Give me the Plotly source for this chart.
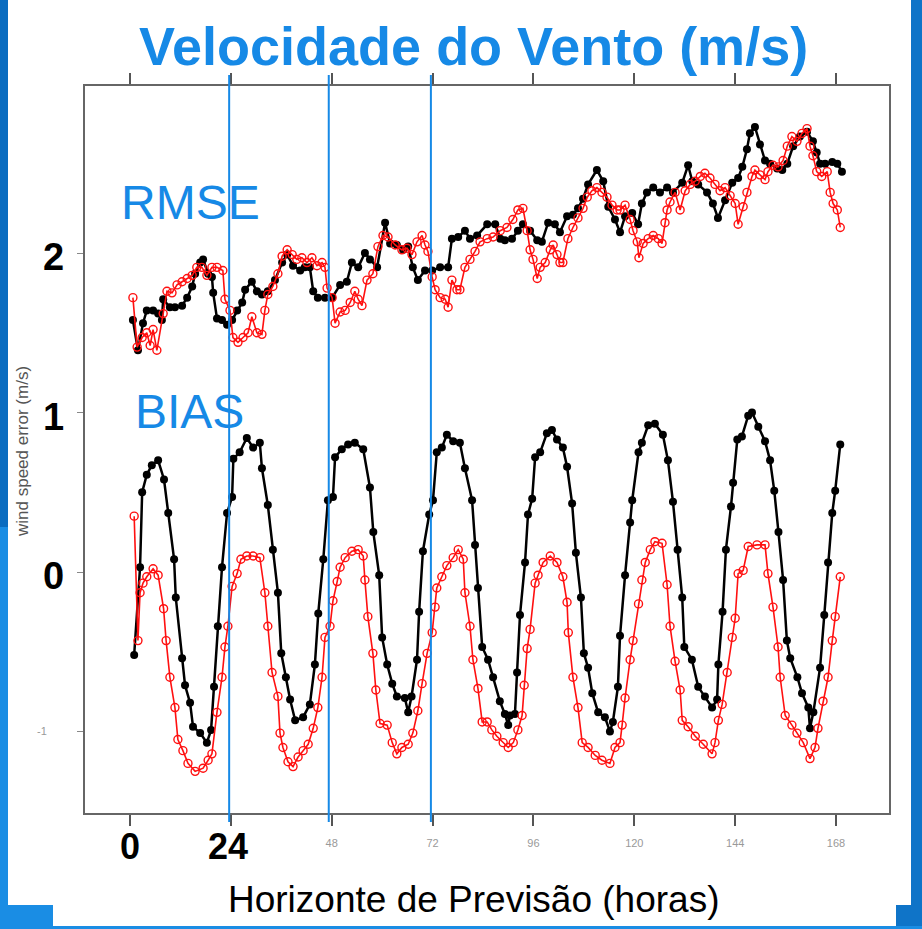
import plotly.graph_objects as go

# ---------------- data ----------------
rmse_ctrl_h = [0.7, 1.9, 3.1, 4.0, 5.5, 6.7, 7.6, 7.9, 9.5, 10.7, 12.4, 13.6, 14.8, 15.5, 16.7, 17.4, 18.6, 19.5,
               19.8, 20.7, 21.9, 23.1, 24.3, 25.5, 26.7, 27.4, 29.0, 30.2, 31.4, 32.8, 34.5, 36.2, 37.4, 38.8,
               40.5, 41.6, 42.8, 43.6, 44.7, 46.4, 48.1, 50.0, 51.6, 52.8, 54.3, 55.9, 57.1, 58.8, 60.7, 61.9,
               63.5, 65.0, 66.2, 67.3, 68.5, 70.2, 71.9, 73.8, 75.7, 76.6, 78.1, 79.7, 80.9, 82.6, 85.0, 86.9,
               88.1, 89.2, 90.9, 92.3, 93.5, 95.2, 96.9, 98.0, 99.5, 101.1, 102.3, 104.0, 105.4, 106.6, 107.8,
               109.0, 111.1, 112.6, 113.8, 115.4, 116.6, 117.8, 119.5, 120.9, 121.8, 123.0, 124.5, 126.1, 127.8,
               129.2, 131.4, 132.8, 133.8, 135.2, 137.3, 138.7, 139.9, 141.6, 143.3, 144.7, 145.7, 146.8, 147.5,
               148.7, 149.9, 151.1, 152.3, 154.0, 155.2, 156.4, 157.8, 159.4, 161.1, 162.5, 163.4, 164.2, 165.4,
               167.1, 168.3, 169.4]
rmse_ctrl = [1.58, 1.39, 1.56, 1.64, 1.64, 1.62, 1.58, 1.71, 1.66, 1.66, 1.67, 1.72, 1.79, 1.87, 1.94, 1.96, 1.87,
             1.85, 1.75, 1.59, 1.58, 1.55, 1.58, 1.64, 1.69, 1.77, 1.82, 1.76, 1.74, 1.76, 1.83, 1.94, 1.99, 1.92,
             1.89, 1.91, 1.91, 1.76, 1.72, 1.72, 1.72, 1.80, 1.82, 1.94, 1.91, 2.00, 1.96, 1.91, 2.19, 2.06,
             2.05, 2.02, 2.04, 1.91, 1.83, 1.89, 1.89, 1.91, 1.91, 2.09, 2.10, 2.14, 2.09, 2.11, 2.18, 2.18,
             2.09, 2.08, 2.09, 2.14, 2.18, 2.14, 2.08, 2.07, 2.19, 2.18, 2.13, 2.23, 2.24, 2.28, 2.34,
             2.43, 2.52, 2.45, 2.29, 2.21, 2.13, 2.23, 2.25, 2.18, 2.31, 2.38, 2.41, 2.38, 2.41,
             2.38, 2.44, 2.55, 2.45, 2.43, 2.38, 2.31, 2.22, 2.33, 2.44, 2.47, 2.54, 2.65, 2.75,
             2.79, 2.68, 2.58, 2.56, 2.53, 2.52, 2.56, 2.67, 2.73, 2.76, 2.70, 2.63, 2.56, 2.56,
             2.57, 2.56, 2.51]

rmse_new_h = [0.7, 1.7, 2.9, 4.0, 4.8, 5.5, 6.4, 7.9, 8.8, 10.0, 11.2, 12.4, 13.6, 14.8, 15.9, 17.1, 18.3, 19.5,
              20.7, 22.1, 22.6, 23.8, 24.5, 25.7, 26.9, 28.1, 29.0, 30.2, 31.4, 32.1, 32.8, 34.0, 35.2, 36.2,
              37.4, 38.6, 39.7, 40.9, 42.1, 43.3, 44.5, 45.7, 46.4, 46.9, 48.1, 48.8, 50.0, 51.2, 52.4, 53.5,
              54.3, 55.2, 56.4, 57.8, 59.0, 60.2, 61.4, 63.1, 64.7, 65.9, 67.1, 68.3, 69.5, 70.2, 70.9, 71.9,
              72.6, 73.8, 75.0, 75.7, 76.6, 77.8, 78.5, 79.7, 80.9, 82.1, 83.3, 85.0, 86.4, 88.1, 89.7, 91.1,
              92.3, 93.5, 94.5, 95.2, 95.9, 96.9, 97.6, 98.8, 100.0, 100.7, 101.6, 102.3, 103.0, 104.2, 105.4,
              106.6, 107.8, 108.8, 109.9, 111.1, 112.3, 113.5, 114.7, 115.9, 116.6, 117.8, 119.0, 119.7, 120.7,
              121.1, 122.1, 123.3, 124.5, 125.7, 126.6, 127.3, 127.8, 128.5, 129.7, 130.9, 132.1, 133.3, 134.5,
              135.7, 136.8, 138.0, 139.2, 140.4, 141.6, 142.8, 144.0, 144.7, 145.9, 146.8, 148.0, 148.7, 149.9,
              151.1, 151.8, 153.0, 154.2, 155.4, 156.4, 157.5, 158.7, 159.9, 161.1, 161.8, 162.5, 163.4, 164.6,
              165.9, 166.6, 167.3, 168.3, 169.0]
rmse_new = [1.72, 1.41, 1.47, 1.50, 1.42, 1.52, 1.39, 1.62, 1.76, 1.75, 1.80, 1.82, 1.84, 1.86, 1.91, 1.91, 1.86,
            1.91, 1.91, 1.89, 1.71, 1.64, 1.47, 1.44, 1.47, 1.50, 1.60, 1.50, 1.49, 1.64, 1.74, 1.79, 1.87, 1.98,
            2.02, 1.99, 1.96, 1.97, 1.94, 1.97, 1.92, 1.94, 1.91, 1.78, 1.72, 1.56, 1.63, 1.64, 1.69, 1.76,
            1.71, 1.67, 1.83, 1.87, 2.04, 2.11, 2.10, 2.05, 2.02, 2.03, 1.99, 2.07, 2.11, 2.05, 2.01, 1.85,
            1.77, 1.72, 1.71, 1.66, 1.83, 1.77, 1.77, 1.91, 1.96, 2.01, 2.07, 2.09, 2.10, 2.14, 2.16, 2.21,
            2.27, 2.28, 2.14, 2.02, 1.96, 1.84, 1.91, 1.94, 2.02, 2.05, 1.99, 1.94, 1.94, 2.09, 2.16,
            2.22, 2.28, 2.35, 2.39, 2.41, 2.38, 2.35, 2.30, 2.27, 2.27, 2.30, 2.21, 2.14, 2.07,
            1.97, 2.06, 2.09, 2.11, 2.09, 2.06, 2.19, 2.27, 2.32, 2.38, 2.27, 2.39, 2.43, 2.45,
            2.48, 2.50, 2.47, 2.43, 2.39, 2.41, 2.36, 2.31, 2.18, 2.29, 2.38, 2.48, 2.52, 2.49,
            2.46, 2.51, 2.55, 2.54, 2.58, 2.67, 2.73, 2.70, 2.75, 2.78, 2.67, 2.61, 2.51, 2.48,
            2.51, 2.38, 2.31, 2.27, 2.16]

bias_ctrl_h = [1.0, 2.4, 2.9, 4.0, 5.2, 6.7, 8.1, 9.1, 10.5, 10.9, 12.4, 13.1, 14.3, 15.0, 16.7, 18.3, 19.3, 20.0,
               20.9, 21.9, 23.1, 24.3, 24.6, 26.1, 27.8, 29.3, 30.9, 31.4, 32.8, 34.0, 35.2, 36.0, 37.1, 38.1,
               39.3, 41.2, 42.8, 44.0, 44.8, 46.0, 47.1, 48.3, 48.8, 50.4, 51.9, 53.5, 55.5, 57.1, 57.9, 59.3,
               60.0, 61.2, 62.4, 63.5, 65.4, 66.2, 67.0, 68.3, 68.8, 69.7, 71.2, 72.1, 73.0, 74.2, 75.4, 76.9,
               78.5, 79.7, 81.4, 82.1, 82.8, 83.8, 85.2, 86.4, 88.0, 89.2, 90.0, 90.4, 91.6, 92.1, 92.8, 94.0,
               94.7, 95.7, 96.4, 97.6, 99.2, 100.4, 101.6, 103.0, 104.0, 105.2, 106.1, 107.3, 108.0, 109.0,
               110.0, 111.4, 113.0, 114.2, 114.9, 116.1, 116.6, 117.8, 119.0, 119.5, 121.0, 121.8, 123.3, 124.9,
               126.8, 128.0, 129.2, 130.3, 131.4, 131.9, 133.7, 135.2, 136.8, 138.5, 139.7, 140.0, 141.0, 141.8,
               143.0, 143.5, 144.5, 145.6, 147.1, 148.0, 149.5, 151.1, 152.3, 153.3, 154.3, 155.4, 156.3, 157.1,
               158.8, 159.9, 161.4, 161.8, 162.6, 164.2, 165.2, 166.1, 167.1, 167.8, 169.0]
bias_ctrl = [-0.52, 0.03, 0.50, 0.61, 0.67, 0.70, 0.58, 0.37, 0.08, -0.16, -0.54, -0.71, -0.82, -0.97, -1.01, -1.07,
             -0.99, -0.72, -0.34, 0.03, 0.37, 0.47, 0.71, 0.75, 0.84, 0.78, 0.81, 0.65, 0.42, 0.14, -0.13, -0.51,
             -0.66, -0.80, -0.93, -0.91, -0.83, -0.58, -0.26, 0.08, 0.45, 0.47, 0.72, 0.77, 0.80, 0.81, 0.77,
             0.53, 0.25, -0.02, -0.41, -0.58, -0.70, -0.78, -0.79, -0.88, -0.78, -0.55, -0.25, 0.13, 0.36, 0.45,
             0.75, 0.78, 0.86, 0.82, 0.81, 0.65, 0.45, 0.17, -0.10, -0.47, -0.55, -0.66, -0.81, -0.89, -0.96,
             -0.90, -0.89, -0.63, -0.27, 0.06, 0.36, 0.46, 0.72, 0.75, 0.87, 0.89, 0.83, 0.78, 0.66, 0.43, 0.12,
             -0.16, -0.51, -0.60, -0.76, -0.88, -0.91, -1.00, -0.94, -0.72, -0.40, -0.02, 0.31, 0.45, 0.75,
             0.81, 0.92, 0.93, 0.86, 0.70, 0.44, 0.14, -0.16, -0.47, -0.55, -0.72, -0.78, -0.85, -0.80, -0.58,
             -0.25, 0.14, 0.41, 0.56, 0.83, 0.85, 0.98, 1.00, 0.91, 0.82, 0.70, 0.51, 0.25, -0.05, -0.43, -0.54,
             -0.66, -0.76, -0.85, -0.98, -0.88, -0.60, -0.27, 0.06, 0.37, 0.51, 0.80]

bias_new_h = [1.0, 1.9, 2.4, 3.1, 4.0, 5.5, 6.7, 8.0, 8.6, 9.5, 10.7, 11.4, 12.6, 13.8, 15.5, 17.4, 18.6, 19.5,
              20.7, 21.9, 22.6, 23.3, 24.3, 25.5, 26.4, 27.8, 29.3, 30.9, 32.1, 32.8, 33.8, 35.2, 35.7, 36.4,
              37.6, 38.8, 40.0, 41.2, 42.4, 43.6, 44.7, 45.7, 46.4, 47.6, 48.3, 49.3, 50.0, 51.2, 52.8, 54.3,
              55.5, 55.9, 56.6, 57.8, 58.5, 59.5, 61.2, 62.4, 63.5, 64.7, 66.2, 67.3, 68.5, 69.5, 70.7, 71.9,
              72.6, 73.0, 74.2, 75.4, 76.9, 78.1, 79.3, 79.7, 80.9, 81.6, 82.8, 83.8, 85.0, 86.1, 87.3, 88.8,
              90.0, 91.2, 92.3, 93.3, 93.8, 94.5, 95.2, 96.4, 97.1, 98.3, 100.0, 101.6, 103.0, 104.0, 104.3,
              105.4, 106.6, 107.6, 109.0, 110.7, 112.3, 114.2, 115.4, 116.6, 117.1, 117.8, 119.0, 119.7, 121.0,
              121.8, 122.6, 123.8, 124.9, 126.6, 127.8, 128.5, 129.7, 130.9, 131.4, 132.8, 134.5, 136.4, 138.5,
              139.2, 140.0, 140.9, 142.1, 143.3, 144.0, 144.7, 145.9, 147.1, 149.2, 151.1, 151.8, 153.0, 154.2,
              154.7, 155.9, 157.5, 158.7, 160.2, 161.8, 163.0, 163.7, 164.9, 166.1, 167.1, 167.8, 169.0]
bias_new = [0.35, -0.43, -0.13, -0.07, -0.03, 0.02, -0.02, -0.23, -0.43, -0.66, -0.85, -1.05, -1.12, -1.20, -1.25,
            -1.23, -1.18, -1.14, -0.88, -0.66, -0.47, -0.34, -0.09, -0.01, 0.08, 0.10, 0.10, 0.09, -0.13, -0.34,
            -0.63, -0.78, -1.01, -1.10, -1.19, -1.22, -1.16, -1.12, -1.08, -0.98, -0.85, -0.66, -0.41, -0.34,
            -0.18, -0.06, 0.03, 0.09, 0.13, 0.14, 0.10, -0.05, -0.28, -0.51, -0.74, -0.95, -0.96, -1.07, -1.14,
            -1.10, -1.08, -1.01, -0.87, -0.70, -0.51, -0.38, -0.22, -0.10, -0.03, 0.04, 0.09, 0.14, 0.08, -0.13,
            -0.34, -0.55, -0.73, -0.94, -0.94, -0.99, -1.03, -1.07, -1.10, -1.07, -0.99, -0.90, -0.71, -0.48,
            -0.36, -0.07, -0.02, 0.06, 0.10, 0.06, -0.03, -0.19, -0.38, -0.66, -0.85, -1.07, -1.10, -1.15, -1.18,
            -1.20, -1.10, -1.07, -0.96, -0.79, -0.55, -0.43, -0.20, -0.05, 0.06, 0.14, 0.19, 0.18, -0.08, -0.34,
            -0.56, -0.74, -0.93, -0.97, -1.03, -1.08, -1.14, -1.07, -0.93, -0.83, -0.63, -0.41, -0.29, -0.01,
            0.01, 0.16, 0.17, 0.17, -0.01, -0.22, -0.47, -0.66, -0.90, -0.96, -1.01, -1.07, -1.17, -1.10, -0.98,
            -0.81, -0.66, -0.43, -0.28, -0.03]

x_ticks = [0, 24, 48, 72, 96, 120, 144, 168]
x_small_labels = ["", "", "48", "72", "96", "120", "144", "168"]
x_big_labels = {0: "0", 24: "24"}
y_ticks = [-1, 0, 1, 2]
y_small_labels = ["-1", "", "", ""]
y_big_labels = {2: "2", 1: "1", 0: "0"}
day_marks = [23.6, 47.3, 71.6]

BLUE = "#1689e6"
FONT = "Liberation Sans, Arial, sans-serif"

# ---------------- geometry helpers (pixel -> paper) ----------------
W, H = 922, 929
ML, MR, MT, MB = 85, 33, 86, 116
PW, PH = W - ML - MR, H - MT - MB


def px(x):
    return (x - ML) / PW


def py(y):
    return (H - MB - y) / PH


fig = go.Figure()

black_line = dict(color="black", width=2.5)
red_line = dict(color="#ff1010", width=1.6)

fig.add_trace(go.Scatter(x=rmse_ctrl_h, y=rmse_ctrl, mode="lines+markers", line=black_line,
                         marker=dict(symbol="circle", size=8, color="black"), showlegend=False))
fig.add_trace(go.Scatter(x=bias_ctrl_h, y=bias_ctrl, mode="lines+markers", line=black_line,
                         marker=dict(symbol="circle", size=8, color="black"), showlegend=False))
fig.add_trace(go.Scatter(x=rmse_new_h, y=rmse_new, mode="lines+markers", line=red_line,
                         marker=dict(symbol="circle-open", size=8, color="#ff1010", line=dict(width=1.4)),
                         showlegend=False))
fig.add_trace(go.Scatter(x=bias_new_h, y=bias_new, mode="lines+markers", line=red_line,
                         marker=dict(symbol="circle-open", size=8, color="#ff1010", line=dict(width=1.4)),
                         showlegend=False))

shapes = []
# blue page decoration
dark_blue = "#0a6cc0"
light_blue = "#1a8de4"
for (x0, y0, x1, y1, c) in [
    (0, 0, 8, 527, dark_blue),
    (0, 527, 8, 929, light_blue),
    (0, 905, 53, 929, light_blue),
    (911, 0, 922, 929, "#0f74c8"),
    (896, 905, 922, 929, "#0f74c8"),
    (0, 926, 922, 929, light_blue),
]:
    shapes.append(dict(type="rect", xref="paper", yref="paper", x0=px(x0), x1=px(x1), y0=py(y1), y1=py(y0),
                       fillcolor=c, line=dict(width=0), layer="below"))
# vertical day separators
for d in day_marks:
    shapes.append(dict(type="line", xref="x", yref="paper", x0=d, x1=d, y0=py(822), y1=py(75),
                       line=dict(color=BLUE, width=2), layer="above"))

annotations = []
annotations.append(dict(text="<b>Velocidade do Vento (m/s)</b>", xref="paper", yref="paper", x=px(473), y=py(46),
                        showarrow=False, font=dict(family=FONT, size=54, color=BLUE), xanchor="center",
                        yanchor="middle"))
annotations.append(dict(text="RMSE", xref="paper", yref="paper", x=px(190), y=py(202), showarrow=False,
                        font=dict(family=FONT, size=48, color=BLUE), xanchor="center", yanchor="middle"))
annotations.append(dict(text="BIAS", xref="paper", yref="paper", x=px(189), y=py(412), showarrow=False,
                        font=dict(family=FONT, size=48, color=BLUE), xanchor="center", yanchor="middle"))
annotations.append(dict(text="Horizonte de Previsão (horas)", xref="paper", yref="paper", x=px(474), y=py(899),
                        showarrow=False, font=dict(family=FONT, size=37, color="black"), xanchor="center",
                        yanchor="middle"))
annotations.append(dict(text="wind speed error (m/s)", xref="paper", yref="paper", x=px(22), y=py(452),
                        showarrow=False, textangle=-90, font=dict(family=FONT, size=17, color="#555"),
                        xanchor="center", yanchor="middle"))
for v, t in x_big_labels.items():
    annotations.append(dict(text="<b>" + t + "</b>", xref="x", yref="paper", x=v, y=py(846), showarrow=False,
                            xshift=-3 if v else 0,
                            font=dict(family=FONT, size=36, color="black"), xanchor="center", yanchor="middle"))
for v, t in y_big_labels.items():
    annotations.append(dict(text="<b>" + t + "</b>", xref="paper", yref="y", x=px(53), y=v, showarrow=False,
                            yshift=-4,
                            font=dict(family=FONT, size=38, color="black"), xanchor="center", yanchor="middle"))

fig.update_layout(
    width=W, height=H,
    margin=dict(l=ML, r=MR, t=MT, b=MB, pad=0),
    paper_bgcolor="white", plot_bgcolor="white",
    shapes=shapes, annotations=annotations,
    xaxis=dict(range=[-10.7, 180.6], tickmode="array", tickvals=x_ticks, ticktext=x_small_labels,
               ticks="outside", ticklen=11, tickwidth=1.5, tickcolor="#555", showline=True, linecolor="#666",
               linewidth=2, mirror="allticks", showgrid=False, zeroline=False, ticklabelstandoff=8,
               tickfont=dict(family=FONT, size=11, color="#999")),
    yaxis=dict(range=[-1.511, 3.047], tickmode="array", tickvals=y_ticks, ticktext=y_small_labels,
               ticks="outside", ticklen=6, tickwidth=1, tickcolor="#888", showline=True, linecolor="#666",
               linewidth=2, mirror=True, showgrid=False, zeroline=False, ticklabelstandoff=28,
               tickfont=dict(family=FONT, size=11, color="#999")),
)

fig.write_html("out.html", config={"displayModeBar": False},
               post_script="document.body.style.margin='0';document.body.style.overflow='hidden';")
